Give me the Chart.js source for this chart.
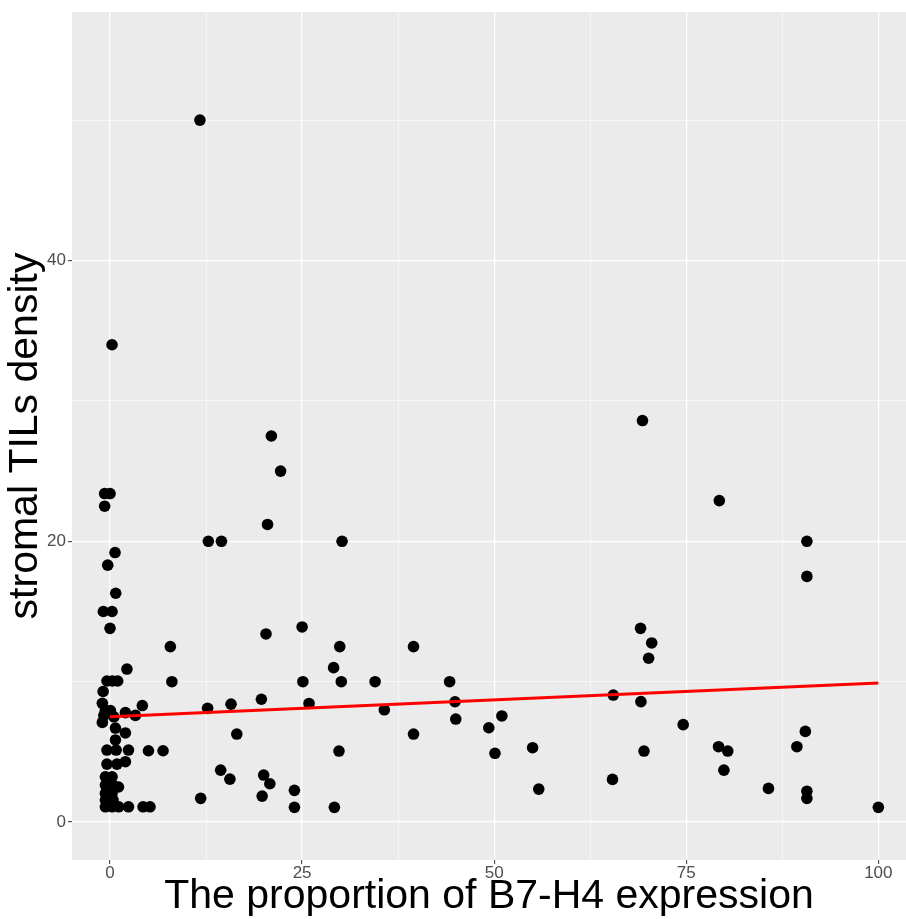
<!DOCTYPE html>
<html>
<head>
<meta charset="utf-8">
<script src="https://cdn.jsdelivr.net/npm/chart.js@4"></script>
<style>
  html, body { margin: 0; padding: 0; background: #ffffff; }
  #wrap { width: 906px; height: 919px; }
</style>
</head>
<body>
<div id="wrap"><canvas id="c" width="906" height="919"></canvas></div>
<script>
// ---- data ----
const b7h4Proportion = [
  -0.7, 0.0, -0.7, 0.26, 0.65, -0.3, 0.74, -0.87, 0.26, 0.0,
  2.2, -0.4, 0.3, 1.0, -0.9, -1.0, 4.2, -0.6, 0.05, 2.0,
  3.3, -0.8, 0.5, -1.0, 0.7, 2.0, 0.7, -0.4, 0.8, 2.4,
  5.0, 6.9, -0.4, 0.9, 2.0, -0.6, 0.26, -0.6, 0.4, 1.1,
  -0.6, 0.26, -0.6, 0.4, -0.6, 0.26, 1.13, 2.4, 4.3, 5.2,
  7.85, 8.05, 11.7,
  21.0, 22.2, 20.5, 12.8, 14.5, 30.2, 25.0, 20.3, 29.9, 39.5,
  29.1, 25.1, 30.1, 34.5, 12.7, 15.75, 19.7, 25.9, 35.7, 16.5,
  39.5, 29.8, 14.4, 15.6, 20.0, 20.8, 11.8, 19.8, 24.0, 24.0,
  29.2,
  44.2, 44.9, 45.0, 51.0, 49.3, 50.1, 55.0, 55.8,
  69.3, 79.3, 90.7, 90.7, 69.05, 70.5, 70.1, 65.5, 69.1, 74.6,
  90.5, 79.2, 80.4, 89.4, 69.5, 79.9, 65.4, 85.7, 90.7, 90.7,
  100.0
];
const tilsDensity = [
  23.4, 23.4, 22.5, 34.0, 19.2, 18.3, 16.3, 15.0, 15.0, 13.8,
  10.9, 10.05, 10.05, 10.05, 9.3, 8.46, 8.3, 7.95, 7.95, 7.8,
  7.6, 7.6, 7.5, 7.1, 6.7, 6.35, 5.85, 5.13, 5.13, 5.13,
  5.08, 5.08, 4.13, 4.13, 4.3, 3.23, 3.23, 2.64, 2.64, 2.5,
  2.04, 2.04, 1.57, 1.57, 1.09, 1.09, 1.09, 1.09, 1.09, 1.09,
  12.5, 10.0, 50.0,
  27.5, 25.0, 21.2, 20.0, 20.0, 20.0, 13.9, 13.4, 12.5, 12.5,
  11.0, 10.0, 10.0, 10.0, 8.1, 8.4, 8.75, 8.45, 8.0, 6.27,
  6.27, 5.06, 3.7, 3.06, 3.35, 2.73, 1.69, 1.85, 2.26, 1.05,
  1.05,
  10.0, 8.57, 7.34, 7.56, 6.72, 4.9, 5.3, 2.35,
  28.6, 22.9, 20.0, 17.5, 13.8, 12.76, 11.67, 9.05, 8.58, 6.94,
  6.46, 5.37, 5.06, 5.37, 5.06, 3.7, 3.04, 2.4, 2.2, 1.69,
  1.05
];
const fitLineX = [0, 100];
const fitLineY = [7.5, 9.9];
const xTickLabels = [0, 25, 50, 75, 100];
const yTickLabels = [0, 20, 40];
const xAxisTitle = "The proportion of B7-H4 expression";
const yAxisTitle = "stromal TILs density";

// ---- build chart ----
const scatterPoints = b7h4Proportion.map((x, i) => ({ x: x, y: tilsDensity[i] }));
const linePoints = fitLineX.map((x, i) => ({ x: x, y: fitLineY[i] }));

const tickFamily = "'Liberation Sans Narrow', 'Liberation Sans', Arial, sans-serif";
const titleFamily = "'Liberation Sans', Arial, sans-serif";

const panelBg = {
  id: 'panelBg',
  beforeDraw(chart) {
    const a = chart.chartArea;
    const ctx = chart.ctx;
    ctx.save();
    ctx.fillStyle = '#EBEBEB';
    ctx.fillRect(a.left, a.top, a.right - a.left, a.bottom - a.top);
    ctx.restore();
  }
};

function isMajor(value, list) { return list.indexOf(value) !== -1; }

new Chart(document.getElementById('c'), {
  data: {
    datasets: [
      {
        type: 'line',
        data: linePoints,
        borderColor: '#FF0000',
        borderWidth: 3,
        pointRadius: 0,
        fill: false,
        tension: 0
      },
      {
        type: 'scatter',
        data: scatterPoints,
        backgroundColor: '#000000',
        borderColor: '#000000',
        borderWidth: 0,
        pointRadius: 5.8,
        pointHoverRadius: 5.8
      }
    ]
  },
  options: {
    responsive: false,
    animation: false,
    devicePixelRatio: 1,
    layout: { autoPadding: false, padding: { top: 12, right: 0, bottom: 0, left: 0 } },
    plugins: {
      legend: { display: false },
      tooltip: { enabled: false }
    },
    scales: {
      x: {
        type: 'linear',
        position: 'bottom',
        min: -4.95,
        max: 103.6,
        afterFit(scale) { scale.height = 59; },
        border: { display: false },
        grid: {
          drawOnChartArea: true,
          color: '#FFFFFF',
          lineWidth: (ctx) => isMajor(ctx.tick && ctx.tick.value, xTickLabels) ? 1.3 : 0.6,
          tickLength: 4,
          tickWidth: 1,
          tickColor: (ctx) => isMajor(ctx.tick && ctx.tick.value, xTickLabels) ? '#333333' : 'rgba(0,0,0,0)'
        },
        ticks: {
          stepSize: 12.5,
          includeBounds: false,
          autoSkip: false,
          maxRotation: 0,
          padding: 1,
          color: '#4D4D4D',
          font: { family: tickFamily, size: 17, lineHeight: 1 },
          callback: (v) => isMajor(v, xTickLabels) ? String(v) : ''
        },
        title: {
          display: true,
          text: xAxisTitle,
          color: '#000000',
          padding: { top: 0, bottom: 0 },
          font: { family: titleFamily, size: 41, lineHeight: 1.1 }
        }
      },
      y: {
        type: 'linear',
        position: 'left',
        min: -2.7,
        max: 57.7,
        afterFit(scale) { scale.width = 72; },
        border: { display: false },
        grid: {
          drawOnChartArea: true,
          color: '#FFFFFF',
          lineWidth: (ctx) => isMajor(ctx.tick && ctx.tick.value, yTickLabels) ? 1.3 : 0.6,
          tickLength: 4,
          tickWidth: 1,
          tickColor: (ctx) => isMajor(ctx.tick && ctx.tick.value, yTickLabels) ? '#333333' : 'rgba(0,0,0,0)'
        },
        ticks: {
          stepSize: 10,
          includeBounds: false,
          autoSkip: false,
          padding: 2,
          color: '#4D4D4D',
          font: { family: tickFamily, size: 17, lineHeight: 1 },
          callback: (v) => isMajor(v, yTickLabels) ? String(v) : ''
        },
        title: {
          display: true,
          text: yAxisTitle,
          color: '#000000',
          padding: { top: 1, bottom: 0 },
          font: { family: titleFamily, size: 41, lineHeight: 1.2 }
        }
      }
    }
  },
  plugins: [panelBg]
});
</script>
</body>
</html>
